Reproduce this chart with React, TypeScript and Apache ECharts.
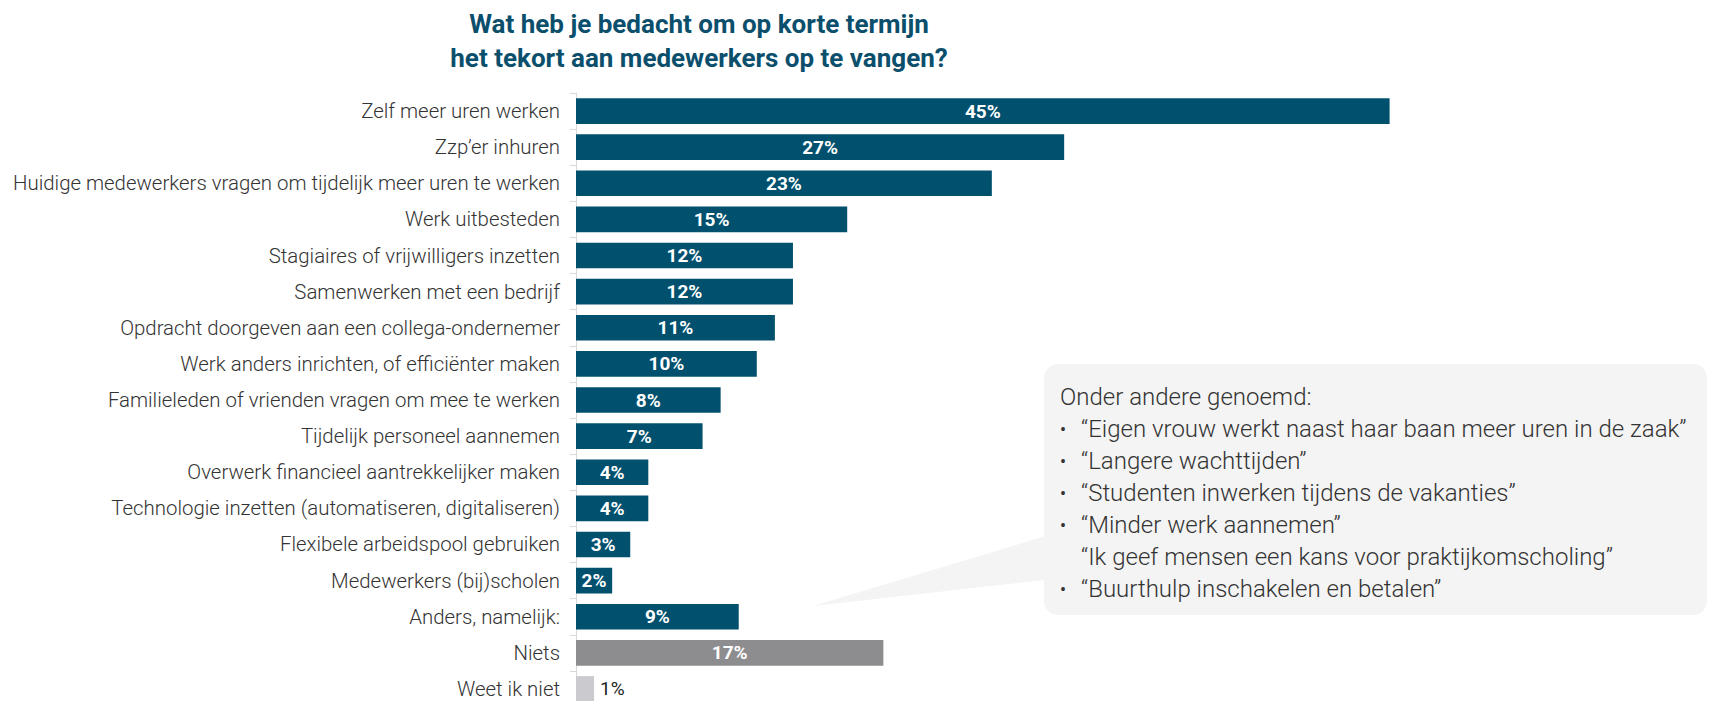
import React, { useEffect, useRef } from "react";
import * as echarts from "echarts";

const categories: string[] = [
  "Zelf meer uren werken",
  "Zzp’er inhuren",
  "Huidige medewerkers vragen om tijdelijk meer uren te werken",
  "Werk uitbesteden",
  "Stagiaires of vrijwilligers inzetten",
  "Samenwerken met een bedrijf",
  "Opdracht doorgeven aan een collega-ondernemer",
  "Werk anders inrichten, of efficiënter maken",
  "Familieleden of vrienden vragen om mee te werken",
  "Tijdelijk personeel aannemen",
  "Overwerk financieel aantrekkelijker maken",
  "Technologie inzetten (automatiseren, digitaliseren)",
  "Flexibele arbeidspool gebruiken",
  "Medewerkers (bij)scholen",
  "Anders, namelijk:",
  "Niets",
  "Weet ik niet",
];

const values: number[] = [45, 27, 23, 15, 12, 12, 11, 10, 8, 7, 4, 4, 3, 2, 9, 17, 1];

const titleLines: string[] = [
  "Wat heb je bedacht om op korte termijn",
  "het tekort aan medewerkers op te vangen?",
];

const calloutHeading = "Onder andere genoemd:";
const calloutLines: { bullet: boolean; text: string }[] = [
  { bullet: true, text: "“Eigen vrouw werkt naast haar baan meer uren in de zaak”" },
  { bullet: true, text: "“Langere wachttijden”" },
  { bullet: true, text: "“Studenten inwerken tijdens de vakanties”" },
  { bullet: true, text: "“Minder werk aannemen”" },
  { bullet: false, text: "“Ik geef mensen een kans voor praktijkomscholing”" },
  { bullet: true, text: "“Buurthulp inschakelen en betalen”" },
];

const TEAL = "#00506e";
const GREY = "#8d8c8f";
const LIGHT = "#cbcacf";

export default function App() {
  const ref = useRef<HTMLDivElement>(null);

  useEffect(() => {
    document.body.style.margin = "0";
    if (!ref.current) return;
    const chart = echarts.init(ref.current, null, { renderer: "svg" });

    const n = categories.length;
    const data = values.map((v, i) => {
      const isNiets = i === n - 2;
      const isWeet = i === n - 1;
      return {
        value: v,
        itemStyle: { color: isWeet ? LIGHT : isNiets ? GREY : TEAL },
        label: isWeet
          ? {
              show: true,
              position: "right",
              distance: 6,
              color: "#222",
              fontWeight: 400,
            }
          : undefined,
      };
    });

    const font = "Roboto";
    const textFill = "#333333";
    const lineStep = 32;
    const boxX = 1044;
    const boxY = 364;
    const boxW = 663;
    const boxH = 251;
    const textX = 1060;
    const quoteX = 1081;
    const firstY = 397;

    const graphics: any[] = [
      {
        type: "polygon",
        z: 10,
        shape: { points: [[1046, 536], [813, 606], [1046, 580]] },
        style: { fill: "#f4f4f4" },
      },
      {
        type: "rect",
        z: 10,
        shape: { x: boxX, y: boxY, width: boxW, height: boxH, r: 14 },
        style: { fill: "#f4f4f4" },
      },
      {
        type: "text",
        z: 11,
        x: textX,
        y: firstY,
        style: {
          text: calloutHeading,
          fill: textFill,
          fontSize: 24,
          fontFamily: font,
          fontWeight: 300,
          verticalAlign: "middle",
          align: "left",
        },
      },
    ];
    calloutLines.forEach((l, i) => {
      const y = firstY + lineStep * (i + 1);
      if (l.bullet) {
        graphics.push({
          type: "text",
          z: 11,
          x: textX,
          y,
          style: {
            text: "•",
            fill: textFill,
            fontSize: 18,
            fontFamily: font,
            fontWeight: 400,
            verticalAlign: "middle",
            align: "left",
          },
        });
      }
      graphics.push({
        type: "text",
        z: 11,
        x: quoteX,
        y,
        style: {
          text: l.text,
          fill: textFill,
          fontSize: 24,
          fontFamily: font,
          fontWeight: 300,
          verticalAlign: "middle",
          align: "left",
        },
      });
    });

    chart.setOption({
      animation: false,
      backgroundColor: "#ffffff",
      title: {
        text: titleLines.join("\n"),
        left: 694,
        top: 2,
        textAlign: "center",
        textStyle: {
          color: "#0b4f6c",
          fontFamily: font,
          fontWeight: 700,
          fontSize: 26,
          lineHeight: 34,
        },
      },
      grid: {
        left: 576,
        top: 93,
        width: 904,
        height: 614,
        outerBoundsMode: "none",
        containLabel: false,
      },
      xAxis: {
        type: "value",
        min: 0,
        max: 50,
        show: false,
      },
      yAxis: {
        type: "category",
        data: categories,
        inverse: true,
        axisLine: { show: true, lineStyle: { color: "#d9d9d9", width: 1 } },
        axisTick: { show: true, length: 6, lineStyle: { color: "#d9d9d9" } },
        axisLabel: {
          fontFamily: font,
          fontWeight: 300,
          fontSize: 20.4,
          color: textFill,
          margin: 16,
        },
        splitLine: { show: false },
      },
      series: [
        {
          type: "bar",
          data,
          barCategoryGap: "29%",
          label: {
            show: true,
            position: "inside",
            formatter: "{c}%",
            color: "#ffffff",
            fontFamily: font,
            fontWeight: 700,
            fontSize: 19,
          },
        },
      ],
      graphic: graphics,
    });

    return () => chart.dispose();
  }, []);

  return (
    <div
      ref={ref}
      style={{ position: "absolute", left: 0, top: 0, width: 1719, height: 701 }}
    />
  );
}
